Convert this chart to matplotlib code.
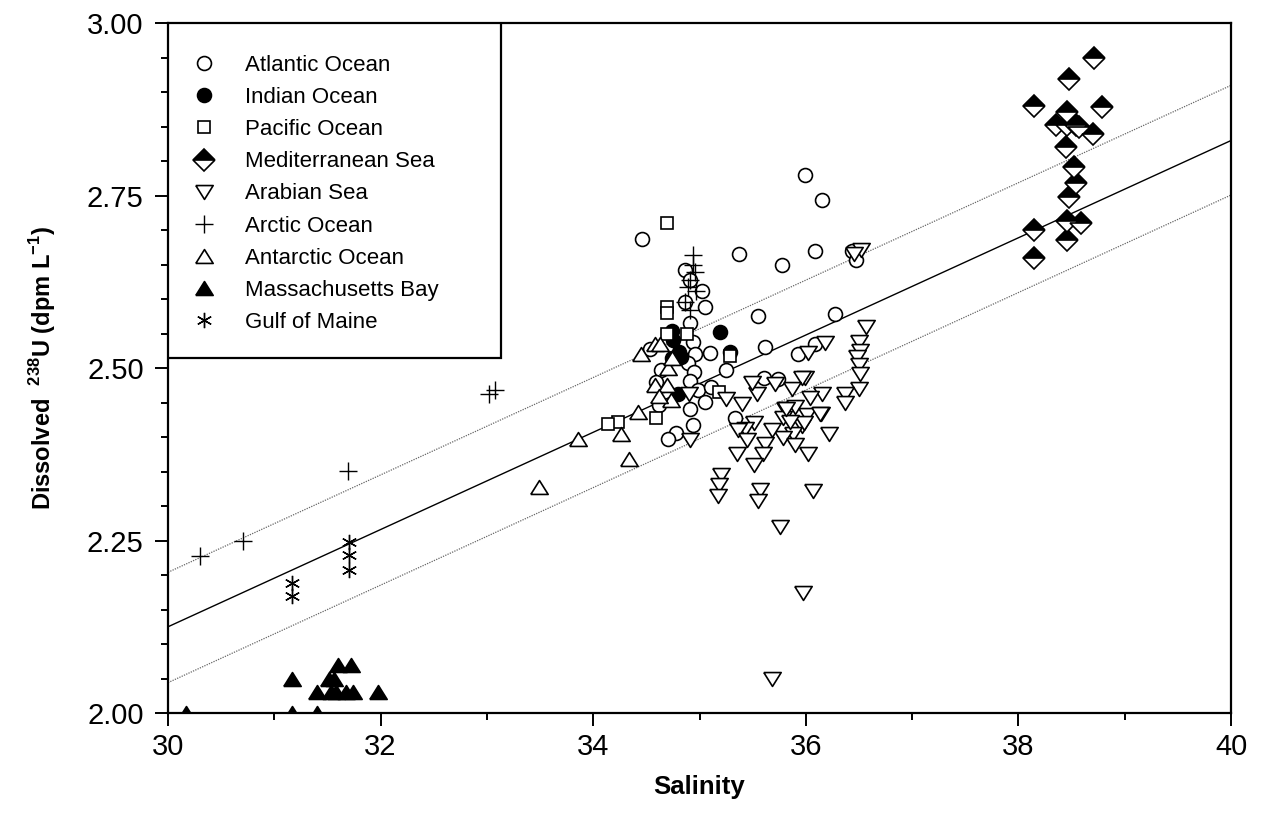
import matplotlib
matplotlib.use('Agg')
import matplotlib.pyplot as plt
from matplotlib.ticker import MultipleLocator, FormatStrFormatter
from matplotlib.patches import Rectangle

plt.rcParams['font.family'] = ['Liberation Sans', 'DejaVu Sans']
plt.rcParams['mathtext.fontset'] = 'custom'
plt.rcParams['mathtext.rm'] = 'Liberation Sans'
plt.rcParams['mathtext.bf'] = 'Liberation Sans:bold'

# salinity / dissolved 238U values
atl_x = [34.46, 35.37, 35.78, 34.86, 34.91, 35.02, 34.86, 35.05, 34.91, 34.94, 35.55, 35.62,
         35.10, 34.96, 34.89, 34.95, 35.25, 34.53, 34.64, 34.59, 34.91, 34.99, 35.11, 35.05,
         34.91, 34.62, 34.94, 35.33, 34.78, 34.70, 35.61, 35.74, 36.27, 36.09, 35.93, 35.99,
         36.15, 36.09, 36.43, 36.47]
atl_y = [2.687, 2.666, 2.649, 2.642, 2.628, 2.612, 2.596, 2.589, 2.566, 2.538, 2.575, 2.530,
         2.522, 2.521, 2.507, 2.495, 2.498, 2.528, 2.497, 2.480, 2.482, 2.468, 2.473, 2.451,
         2.441, 2.446, 2.417, 2.427, 2.406, 2.397, 2.486, 2.484, 2.579, 2.535, 2.520, 2.780,
         2.744, 2.670, 2.670, 2.657]

ind_x = [34.74, 35.19, 35.29, 34.81, 34.83, 34.74, 34.75, 34.80]
ind_y = [2.554, 2.553, 2.524, 2.524, 2.516, 2.514, 2.541, 2.463]

pac_x = [34.69, 34.69, 34.69, 34.69, 34.88, 35.29, 35.18, 34.59, 34.23, 34.14]
pac_y = [2.711, 2.589, 2.580, 2.550, 2.550, 2.518, 2.466, 2.427, 2.422, 2.419]

med_x = [38.71, 38.48, 38.79, 38.46, 38.35, 38.46, 38.54, 38.57, 38.70, 38.45, 38.52, 38.54,
         38.48, 38.46, 38.59, 38.46, 38.15, 38.15, 38.15]
med_y = [2.950, 2.919, 2.879, 2.871, 2.852, 2.852, 2.852, 2.849, 2.839, 2.821, 2.792, 2.769,
         2.748, 2.714, 2.710, 2.686, 2.880, 2.700, 2.660]

arab_x = [36.57, 36.50, 36.51, 36.48, 36.50, 36.51, 36.50, 36.37, 36.37, 36.18, 36.02, 35.99,
          35.96, 36.15, 36.14, 36.22, 35.87, 36.04, 35.71, 35.54, 35.49, 35.40, 35.25, 34.90,
          34.91, 35.80, 35.90, 36.01, 35.96, 35.79, 35.88, 35.79, 35.90, 35.68, 35.62, 35.51,
          35.43, 35.36, 35.45, 35.35, 35.60, 35.51, 36.02, 35.20, 35.18, 35.17, 35.57, 35.55,
          36.07, 35.76, 35.97, 35.68, 36.52, 36.45, 35.98, 35.85, 36.13, 35.81]
arab_y = [2.559, 2.538, 2.525, 2.516, 2.504, 2.492, 2.470, 2.462, 2.449, 2.537, 2.522, 2.485,
          2.485, 2.463, 2.434, 2.404, 2.470, 2.456, 2.477, 2.462, 2.478, 2.448, 2.455, 2.463,
          2.396, 2.441, 2.444, 2.432, 2.416, 2.427, 2.405, 2.398, 2.388, 2.410, 2.390, 2.420,
          2.412, 2.410, 2.396, 2.375, 2.375, 2.359, 2.375, 2.345, 2.330, 2.314, 2.323, 2.308,
          2.322, 2.270, 2.174, 2.050, 2.671, 2.665, 2.420, 2.422, 2.433, 2.441]

arc_x = [30.30, 30.71, 31.69, 33.02, 33.08, 34.94, 34.94, 34.96, 34.91, 34.89, 34.97, 34.86, 34.91]
arc_y = [2.227, 2.250, 2.351, 2.462, 2.469, 2.664, 2.649, 2.640, 2.628, 2.617, 2.612, 2.596, 2.584]

ant_x = [33.49, 33.86, 34.26, 34.34, 34.42, 34.45, 34.58, 34.63, 34.70, 34.74, 34.58, 34.69,
         34.73, 34.62]
ant_y = [2.327, 2.397, 2.405, 2.368, 2.436, 2.521, 2.535, 2.535, 2.500, 2.514, 2.475, 2.475,
         2.454, 2.460]

mass_x = [30.17, 31.17, 31.17, 31.40, 31.40, 31.60, 31.72, 31.51, 31.56, 31.53, 31.58, 31.67,
          31.74, 31.98]
mass_y = [2.00, 2.05, 2.00, 2.00, 2.03, 2.07, 2.07, 2.05, 2.05, 2.03, 2.03, 2.03, 2.03, 2.03]

gom_x = [31.17, 31.17, 31.70, 31.70, 31.70]
gom_y = [2.189, 2.169, 2.248, 2.229, 2.208]

# regression line and its band (end points at salinity 30 and 40)
fit_x = [30, 40]
fit_y = [2.125, 2.830]
upper_y = [2.204, 2.910]
lower_y = [2.044, 2.751]

# flatter triangles, like the original software draws them
tri_up = [(-1, -0.8), (1, -0.8), (0, 0.8), (-1, -0.8)]
tri_down = [(-1, 0.8), (1, 0.8), (0, -0.8), (-1, 0.8)]

fig, ax = plt.subplots(figsize=(12.67, 8.31), dpi=100)
fig.subplots_adjust(left=0.1326, right=0.9716, top=0.972, bottom=0.142)

ax.plot(fit_x, fit_y, color='black', lw=1.0, zorder=1)
ax.plot(fit_x, upper_y, color='#666666', lw=0.9, ls=(0, (1, 1)), zorder=1)
ax.plot(fit_x, lower_y, color='#666666', lw=0.9, ls=(0, (1, 1)), zorder=1)

mew = 1.2
ax.plot(atl_x, atl_y, 'o', ms=10, mfc='white', mec='black', mew=mew, label='Atlantic Ocean')
ax.plot(ind_x, ind_y, 'o', ms=10, mfc='black', mec='black', mew=mew, label='Indian Ocean')
ax.plot(pac_x, pac_y, 's', ms=9, mfc='white', mec='black', mew=mew, label='Pacific Ocean')
ax.plot(med_x, med_y, 'D', ms=11.5, mfc='black', mfcalt='white', fillstyle='top', mec='black',
        mew=mew, label='Mediterranean Sea')
ax.plot(arab_x, arab_y, marker=tri_down, ls='none', ms=12.5, mfc='white', mec='black',
        mew=mew, label='Arabian Sea')
ax.plot(arc_x, arc_y, '+', ms=13, mec='black', mew=1.0, label='Arctic Ocean')
ax.plot(ant_x, ant_y, marker=tri_up, ls='none', ms=12.5, mfc='white', mec='black', mew=mew,
        label='Antarctic Ocean')
ax.plot(mass_x, mass_y, marker=tri_up, ls='none', ms=12.5, mfc='black', mec='black', mew=mew,
        label='Massachusetts Bay')
ax.plot(gom_x, gom_y, marker=(6, 2, 0), ls='none', ms=11, mec='black', mew=1.0,
        label='Gulf of Maine')

ax.set_xlim(30, 40)
ax.set_ylim(2.0, 3.0)
ax.xaxis.set_major_locator(MultipleLocator(2))
ax.xaxis.set_minor_locator(MultipleLocator(1))
ax.yaxis.set_major_locator(MultipleLocator(0.25))
ax.yaxis.set_minor_locator(MultipleLocator(0.05))
ax.yaxis.set_major_formatter(FormatStrFormatter('%.2f'))
ax.tick_params(which='major', direction='out', length=9.5, width=1.4, labelsize=21)
ax.tick_params(which='minor', direction='out', length=5, width=1.4)
ax.tick_params(axis='x', which='major', pad=5)
ax.tick_params(axis='y', which='major', pad=8)
for s in ax.spines.values():
    s.set_linewidth(1.6)

ax.set_xlabel('Salinity', fontsize=18.5, fontweight='bold', labelpad=10)
ax.set_ylabel(r'Dissolved  $^{\mathbf{238}}$U (dpm L$^{\mathbf{-1}}$)', fontsize=17,
              fontweight='bold', labelpad=21)

# legend box is drawn separately so its size can match the original
ax.add_patch(Rectangle((0, 0.5145), 0.313, 0.4855, transform=ax.transAxes, fc='white',
                       ec='black', lw=1.6, zorder=4))
leg = ax.legend(loc='upper left', bbox_to_anchor=(0, 0.9797), borderaxespad=0,
                frameon=False, fontsize=16, handletextpad=1.05, labelspacing=0.5,
                borderpad=0.8, handlelength=1.6)
leg.set_zorder(5)

plt.savefig('out.png', dpi=100)
